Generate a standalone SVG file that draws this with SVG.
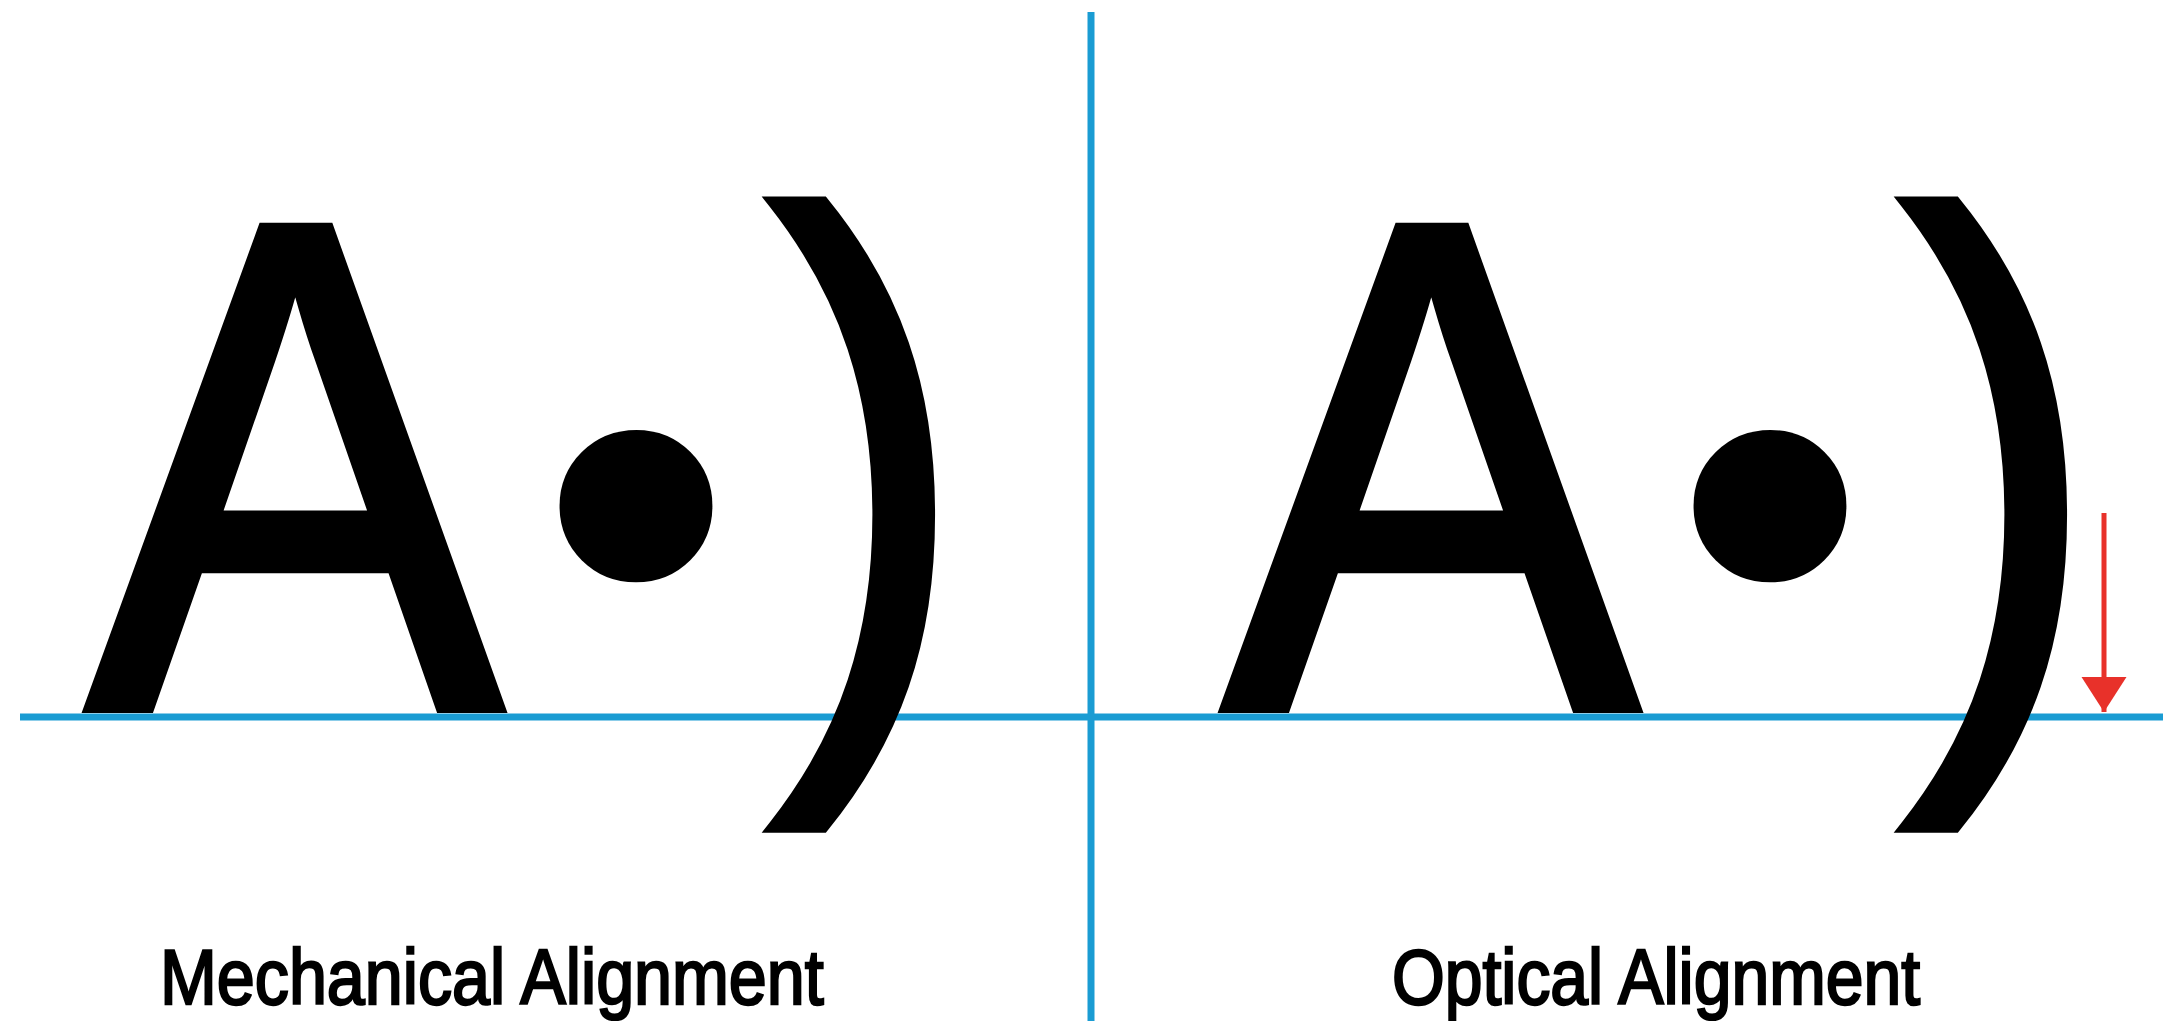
<svg xmlns="http://www.w3.org/2000/svg" width="2170" height="1021" viewBox="0 0 2170 1021">
  <defs>
    <style>
      .guide { stroke: #1a9cd3; stroke-width: 7; fill: none; }
      .big { font-family: "Liberation Sans", Arial, sans-serif; fill: #000; }
      .glyphA { font-size: 695px; stroke: #000; stroke-width: 12px; stroke-linejoin: miter; }
      .paren { font-size: 670px; stroke: #000; stroke-width: 12px; }
      .dot { font-family: "DejaVu Sans", sans-serif; font-size: 527px; text-anchor: middle; fill: #000; }
      .label { font-family: "Liberation Sans", Arial, sans-serif; font-size: 78px; fill: #000; stroke: #000; stroke-width: 2.4px; }
    </style>
    <marker id="redHead" markerUnits="userSpaceOnUse" markerWidth="36" markerHeight="46" refX="35" refY="22.5" orient="auto">
      <path d="M0,0 L35,22.5 L0,45 Z" fill="#e8312a"/>
    </marker>
  </defs>
  <rect width="2170" height="1021" fill="#ffffff"/>

  <g id="guides">
    <line class="guide" x1="1091" y1="12" x2="1091" y2="1021"/>
    <line class="guide" x1="20" y1="717" x2="2163" y2="717"/>
  </g>

  <g id="mechanical">
    <text class="big glyphA" transform="translate(88.3,707) scale(0.89,1)" x="0" y="0">A</text>
    <text class="dot" x="636" y="702">•</text>
    <text class="big paren" transform="translate(770,688) scale(0.88,1)" x="0" y="0">)</text>
    <text class="label" transform="translate(160,1004) scale(0.875,1)" x="0" y="0">Mechanical Alignment</text>
  </g>

  <g id="optical">
    <text class="big glyphA" transform="translate(1224.3,707) scale(0.89,1)" x="0" y="0">A</text>
    <text class="dot" x="1770" y="702">•</text>
    <text class="big paren" transform="translate(1902,688) scale(0.88,1)" x="0" y="0">)</text>
    <text class="label" transform="translate(1392,1004) scale(0.87,1)" x="0" y="0">Optical Alignment</text>
  </g>

  <g id="connectors">
    <line x1="2104" y1="513" x2="2104" y2="712" stroke="#e8312a" stroke-width="5" marker-end="url(#redHead)"/>
  </g>
</svg>
